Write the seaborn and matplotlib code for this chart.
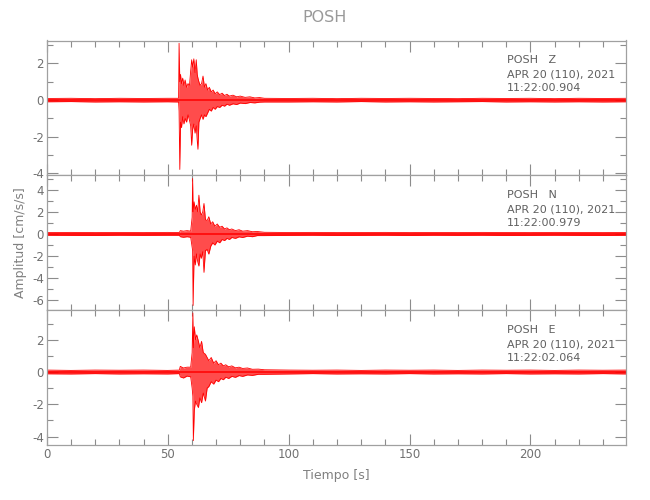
import matplotlib
matplotlib.use('Agg')
import matplotlib.pyplot as plt
import seaborn as sns
import pandas as pd
from matplotlib.ticker import MultipleLocator

sns.set_style('ticks')
plt.rcParams['font.family'] = ['DejaVu Sans']
plt.rcParams['axes.unicode_minus'] = False

station = 'POSH'
components = ['Z', 'N', 'E']
start_times = ['11:22:00.904', '11:22:00.979', '11:22:02.064']
date_label = 'APR 20 (110), 2021'

# trace envelopes: time [s], upper and lower amplitude [cm/s/s]
t_z = [0, 10, 20, 30, 40, 50, 54.5, 54.7, 55.0, 55.3, 55.7, 56.2, 56.7, 57.2, 57.8, 58.4,
       59.0, 59.5, 59.9, 60.3, 60.8, 61.3, 61.8, 62.2, 62.5, 62.9, 63.4, 64.0, 64.6, 65.2,
       65.8, 66.5, 67.2, 68.0, 68.8, 69.6, 70.5, 71.5, 72.5, 73.5, 74.5, 75.5, 77.0, 78.5,
       80.0, 82.0, 84.0, 86.0, 88.0, 90,
       100, 110, 120, 130, 140, 150, 160, 170, 180, 190, 200, 210, 220, 230, 240]
hi_z = [0.09, 0.1, 0.08, 0.1, 0.09, 0.1, 0.1, 3.1, 1.0, 1.4, 0.9, 1.2, 0.8, 1.1, 0.7, 0.9,
        0.8, 1.6, 2.2, 1.8, 2.25, 1.5, 2.2, 1.4, 1.2, 1.0, 0.8, 0.9, 1.31, 0.7,
        0.9, 0.55, 0.7, 0.45, 0.55, 0.35, 0.45, 0.3, 0.38, 0.25, 0.32, 0.22, 0.27, 0.18,
        0.22, 0.15, 0.18, 0.12, 0.14, 0.1,
        0.09, 0.1, 0.08, 0.1, 0.09, 0.1, 0.09, 0.08, 0.1, 0.09, 0.1, 0.08, 0.1, 0.09, 0.1]
lo_z = [-0.09, -0.08, -0.1, -0.09, -0.1, -0.09, -0.1, -0.6, -3.78, -1.2, -1.5, -0.9, -1.3, -1.0, -1.2, -0.8,
        -1.1, -1.4, -2.46, -1.6, -1.3, -1.8, -1.4, -2.2, -2.68, -1.2, -1.0, -0.8, -1.05, -0.8,
        -0.9, -0.7, -0.5, -0.6, -0.4, -0.5, -0.35, -0.4, -0.28, -0.33, -0.22, -0.28, -0.2, -0.24,
        -0.16, -0.19, -0.13, -0.15, -0.11, -0.1,
        -0.1, -0.09, -0.1, -0.08, -0.1, -0.09, -0.1, -0.09, -0.08, -0.1, -0.09, -0.1, -0.09, -0.1, -0.09]

t_n = [0, 10, 20, 30, 40, 50, 54.8, 55.2, 56.5, 58.0, 59.5, 60.1, 60.3, 60.5, 60.9, 61.4,
       61.9, 62.4, 62.9, 63.4, 63.9, 64.5, 65.0, 65.6, 66.3, 67.0, 67.8, 68.6, 69.5, 70.5,
       71.5, 72.5, 73.5, 74.5, 75.5, 76.5, 78.0, 79.5, 81.0, 83.0, 85.0, 87.0, 90,
       100, 110, 120, 130, 140, 150, 160, 170, 180, 190, 200, 210, 220, 230, 240]
hi_n = [0.12, 0.14, 0.12, 0.13, 0.12, 0.14, 0.12, 0.3, 0.25, 0.3, 0.25, 1.5, 5.0, 2.0, 2.9, 2.2,
        2.6, 2.0, 3.5, 2.0, 1.7, 2.0, 2.75, 1.3, 1.2, 1.55, 0.9, 1.1, 0.7, 0.9,
        0.6, 0.7, 0.45, 0.55, 0.38, 0.45, 0.3, 0.38, 0.25, 0.3, 0.2, 0.22, 0.15,
        0.13, 0.14, 0.12, 0.13, 0.14, 0.12, 0.13, 0.12, 0.14, 0.13, 0.12, 0.14, 0.13, 0.12, 0.13]
lo_n = [-0.12, -0.13, -0.14, -0.12, -0.13, -0.12, -0.12, -0.25, -0.3, -0.25, -0.3, -1.2, -1.5, -6.46, -2.0, -2.8,
        -1.8, -2.5, -2.9, -1.8, -2.2, -1.6, -3.47, -1.5, -1.4, -1.82, -1.1, -0.8, -1.0, -0.65,
        -0.8, -0.5, -0.6, -0.4, -0.5, -0.32, -0.4, -0.26, -0.32, -0.2, -0.25, -0.15, -0.15,
        -0.13, -0.12, -0.14, -0.13, -0.12, -0.14, -0.12, -0.13, -0.12, -0.14, -0.13, -0.12, -0.13, -0.14, -0.12]

t_e = [0, 10, 20, 30, 40, 50, 54.8, 55.2, 56.5, 58.0, 59.5, 60.1, 60.4, 60.6, 61.0, 61.5,
       62.0, 62.7, 63.3, 64.0, 64.7, 65.6, 66.3, 67.0, 68.0, 69.0, 70.0, 71.0, 72.0, 73.0,
       74.0, 75.2, 76.5, 78.0, 79.5, 81.0, 83.0, 85.0, 87.5, 90,
       100, 110, 120, 130, 140, 150, 160, 170, 180, 190, 200, 210, 220, 230, 240]
hi_e = [0.12, 0.1, 0.12, 0.11, 0.12, 0.1, 0.12, 0.35, 0.25, 0.3, 0.3, 1.2, 3.66, 1.5, 2.8, 2.0,
        2.3, 1.9, 1.5, 1.9, 1.2, 1.1, 0.9, 0.7, 0.9, 0.55, 0.7, 0.45, 0.55, 0.38,
        0.45, 0.32, 0.38, 0.26, 0.3, 0.22, 0.25, 0.17, 0.18, 0.14,
        0.12, 0.11, 0.12, 0.1, 0.12, 0.11, 0.12, 0.1, 0.12, 0.11, 0.12, 0.1, 0.12, 0.11, 0.12]
lo_e = [-0.11, -0.12, -0.1, -0.12, -0.11, -0.12, -0.1, -0.3, -0.37, -0.25, -0.3, -1.0, -1.5, -4.25, -2.34, -1.8,
        -2.0, -2.2, -1.6, -1.9, -1.3, -1.8, -1.0, -0.9, -0.6, -0.75, -0.5, -0.6, -0.4, -0.48,
        -0.32, -0.4, -0.27, -0.33, -0.22, -0.27, -0.18, -0.21, -0.14, -0.14,
        -0.12, -0.1, -0.12, -0.11, -0.12, -0.1, -0.12, -0.11, -0.12, -0.1, -0.12, -0.11, -0.12, -0.1, -0.12]

traces = [(t_z, hi_z, lo_z), (t_n, hi_n, lo_n), (t_e, hi_e, lo_e)]
ylims = [(-4.1, 3.25), (-6.88, 5.29), (-4.52, 3.83)]

grey = '#8c8c8c'
fig, axes = plt.subplots(3, 1, figsize=(6.5, 5), dpi=100, sharex=True)
fig.subplots_adjust(left=0.072, right=0.963, top=0.919, bottom=0.11, hspace=0)

for ax, (t, hi, lo), comp, st, yl in zip(axes, traces, components, start_times, ylims):
    df = pd.DataFrame({'t': t, 'hi': hi, 'lo': lo})
    ax.fill_between(df['t'], df['lo'], df['hi'], color='red', alpha=0.7, lw=0)
    sns.lineplot(data=df, x='t', y='hi', color='red', lw=0.6, ax=ax)
    sns.lineplot(data=df, x='t', y='lo', color='red', lw=0.6, ax=ax)
    ax.axhline(0, color='red', lw=1.3, alpha=0.85)
    ax.set_xlim(0, 239.5)
    ax.set_ylim(*yl)
    ax.set_ylabel('')
    ax.set_xlabel('')
    ax.yaxis.set_major_locator(MultipleLocator(2))
    ax.yaxis.set_minor_locator(MultipleLocator(1))
    ax.xaxis.set_major_locator(MultipleLocator(50))
    ax.xaxis.set_minor_locator(MultipleLocator(10))
    ax.tick_params(which='both', direction='in', top=True, right=True, colors=grey,
                   labelcolor='#707070', labelsize=8.5, width=0.8, pad=2)
    ax.tick_params(which='major', length=8)
    ax.tick_params(which='minor', length=4.5)
    for s in ax.spines.values():
        s.set_color('#a0a0a0')
        s.set_linewidth(0.9)
    ax.text(0.794, 0.853, f'{station}   {comp}', transform=ax.transAxes, va='center',
            fontsize=8, color='#606060')
    ax.text(0.794, 0.745, date_label, transform=ax.transAxes, va='center',
            fontsize=8, color='#606060')
    ax.text(0.794, 0.646, st, transform=ax.transAxes, va='center',
            fontsize=8, color='#606060')

axes[2].set_xlabel('Tiempo [s]', fontsize=9, color='#808080', labelpad=6)
axes[1].set_ylabel('Amplitud [cm/s/s]', fontsize=9, color='#808080')
axes[1].yaxis.set_label_coords(-0.035, 0.5)
fig.suptitle(station, y=0.98, fontsize=11.5, color='#999999')

fig.savefig('out.png', dpi=100)
